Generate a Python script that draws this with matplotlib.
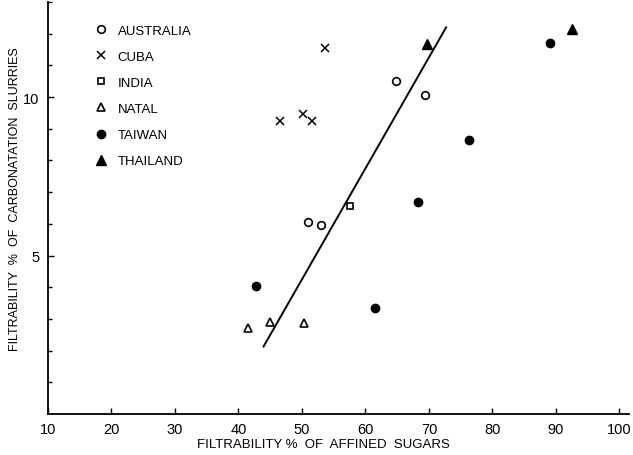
import matplotlib
matplotlib.use('Agg')
import matplotlib.pyplot as plt

plt.rcParams['font.family'] = ['Liberation Sans', 'DejaVu Sans']

# filtrability % of affined sugars (x) vs carbonatation slurries (y)
australia_x = [64.8, 69.4, 50.9, 53.0]
australia_y = [10.5, 10.07, 6.05, 5.96]
cuba_x = [53.7, 46.6, 50.1, 51.6]
cuba_y = [11.55, 9.25, 9.48, 9.24]
india_x = [57.6]
india_y = [6.56]
natal_x = [41.5, 45.0, 50.3]
natal_y = [2.71, 2.90, 2.87]
taiwan_x = [89.1, 76.3, 68.2, 42.8, 61.5]
taiwan_y = [11.71, 8.63, 6.70, 4.03, 3.36]
thailand_x = [92.5, 69.7]
thailand_y = [12.16, 11.66]

# fitted line end points
fit_x = [43.95, 72.7]
fit_y = [2.13, 12.2]

x_ticks = [10, 20, 30, 40, 50, 60, 70, 80, 90, 100]
y_ticks = [5, 10]

fig = plt.figure(figsize=(6.33, 4.56), dpi=100)
ax = fig.add_axes([48 / 633, 1 - 415 / 456, 581 / 633, 412 / 456])

ax.plot(fit_x, fit_y, color='black', lw=1.4)

ms = 5.5
ax.plot(australia_x, australia_y, 'o', mfc='white', mec='black', mew=1.2, ms=ms, ls='none', label='AUSTRALIA')
ax.plot(cuba_x, cuba_y, 'x', color='black', mew=1.1, ms=ms, ls='none', label='CUBA')
ax.plot(india_x, india_y, 's', mfc='white', mec='black', mew=1.2, ms=ms - 0.5, ls='none', label='INDIA')
ax.plot(natal_x, natal_y, '^', mfc='white', mec='black', mew=1.2, ms=ms + 0.5, ls='none', label='NATAL')
ax.plot(taiwan_x, taiwan_y, 'o', color='black', ms=ms + 0.5, ls='none', label='TAIWAN')
ax.plot(thailand_x, thailand_y, '^', color='black', ms=ms + 1, ls='none', label='THAILAND')

ax.set_xlim(10, 101.5)
ax.set_ylim(0, 13)
ax.set_xticks(x_ticks)
ax.set_yticks(y_ticks)
ax.set_yticks(range(1, 14), minor=True)
ax.tick_params(axis='both', direction='in', length=4, width=1, labelsize=10.5, pad=6)
ax.tick_params(axis='y', which='minor', direction='in', length=3, width=1)

for side in ['top', 'right']:
    ax.spines[side].set_visible(False)
for side in ['left', 'bottom']:
    ax.spines[side].set_linewidth(1.3)

# axis titles placed by pixel position, as in the scan
fig.text(323 / 633, 1 - 445 / 456, 'FILTRABILITY %  OF  AFFINED  SUGARS',
         fontsize=9.5, ha='center', va='center')
fig.text(15 / 633, 1 - 199 / 456, 'FILTRABILITY  %  OF  CARBONATATION  SLURRIES',
         fontsize=9, ha='center', va='center', rotation=90)

ax.legend(loc='upper left', bbox_to_anchor=(0.07, 0.958), frameon=False,
          fontsize=9.5, handlelength=1.0, handletextpad=0.8, labelspacing=1.05,
          borderaxespad=0)

fig.savefig('out.png', dpi=100)
